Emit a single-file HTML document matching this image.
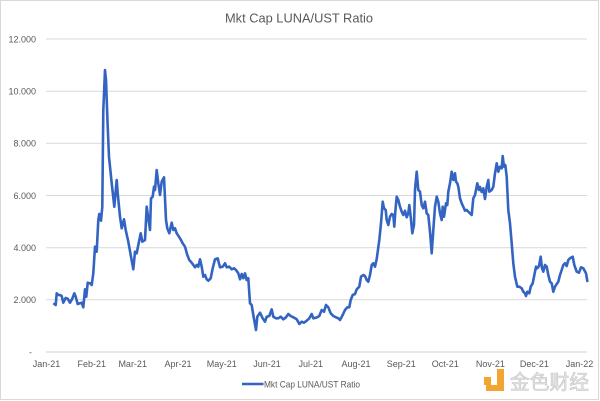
<!DOCTYPE html>
<html>
<head>
<meta charset="utf-8">
<style>
html,body{margin:0;padding:0;background:#fff;}
svg{display:block;}
</style>
</head>
<body>
<svg width="600" height="401" viewBox="0 0 600 401" xmlns="http://www.w3.org/2000/svg">
  <rect x="0" y="0" width="600" height="401" fill="#ffffff"/>
  <rect x="0.5" y="0.5" width="598" height="399" fill="none" stroke="#d9d9d9" stroke-width="1"/>

  <!-- Title -->
  <text x="299" y="22.5" text-anchor="middle" font-family="Liberation Sans, sans-serif" font-size="13" fill="#595959" textLength="148" lengthAdjust="spacingAndGlyphs">Mkt Cap LUNA/UST Ratio</text>

  <!-- Gridlines -->
  <g stroke="#d9d9d9" stroke-width="1">
    <line x1="46" y1="39" x2="587" y2="39"/>
    <line x1="46" y1="91.2" x2="587" y2="91.2"/>
    <line x1="46" y1="143.3" x2="587" y2="143.3"/>
    <line x1="46" y1="195.5" x2="587" y2="195.5"/>
    <line x1="46" y1="247.7" x2="587" y2="247.7"/>
    <line x1="46" y1="299.8" x2="587" y2="299.8"/>
  </g>
  <line x1="46" y1="352" x2="587" y2="352" stroke="#d0d0d0" stroke-width="1"/>

  <!-- Y labels -->
  <g font-family="Liberation Sans, sans-serif" font-size="9" fill="#595959" text-anchor="end">
    <text x="36" y="42.3">12.000</text>
    <text x="36" y="94.5">10.000</text>
    <text x="36" y="146.6">8.000</text>
    <text x="36" y="198.8">6.000</text>
    <text x="36" y="251">4.000</text>
    <text x="36" y="303.1">2.000</text>
    <text x="32" y="355.3">-</text>
  </g>

  <!-- X labels -->
  <g font-family="Liberation Sans, sans-serif" font-size="9" fill="#595959" text-anchor="middle">
    <text x="46.5" y="367">Jan-21</text>
    <text x="91.8" y="367">Feb-21</text>
    <text x="132.7" y="367">Mar-21</text>
    <text x="178" y="367">Apr-21</text>
    <text x="221.8" y="367">May-21</text>
    <text x="267" y="367">Jun-21</text>
    <text x="310.8" y="367">Jul-21</text>
    <text x="356" y="367">Aug-21</text>
    <text x="401.3" y="367">Sep-21</text>
    <text x="445.3" y="367">Oct-21</text>
    <text x="490.4" y="367">Nov-21</text>
    <text x="534.4" y="367">Dec-21</text>
    <text x="579.5" y="367">Jan-22</text>
  </g>

  <!-- Series -->
  <polyline fill="none" stroke="#3464c2" stroke-width="2.6" stroke-linejoin="round" stroke-linecap="round" points="
54.3,304 55.7,305 56.7,293.3 58.3,295 60,295 61.7,296 63.3,302.7 65.7,298 67.7,298.7 70,302.7 72.3,298.7 74.3,293.3 75.7,296.7 77.7,304 80,303.3 81.7,302.7 83.3,307.3 85,289.3 86.3,296.7 87.7,282.7 90,283.3 91.7,285 93.3,273.3 95,246.7 96.7,251.7 98.3,220 99.3,214 101,220.7 102.3,206.7 103.3,110 104.3,86.7 105,70 106,80 107.7,126.7 109,156.7 111.7,183.3 114.3,206.7 116.7,180 117.7,193.3 120,216.7 121.7,228.3 124,219.3 125.7,230 128.3,241.7 131,256.7 133.3,269.3 135,251.7 136.7,253.3 138.3,245 140.7,233.3 142.3,241.7 145,240 146.7,206.7 148.3,218.3 150,230
151,198.3 152.7,196.7 154,186.7 155,190 156.7,170 158.3,183.3 160,195 161.7,181.7 164,177.3 166,220 167.3,228.3 169.3,233.3 171.7,222.7 173.3,230 175,228.3 176.7,233.3 180,238.3 182.7,243.3 185,246.7 187.3,255 189.3,260 191.7,262.7 195,267.3 196.7,265 198.3,266.7 200,259.3 201.7,266.7 203.3,276.7 205,275 206.7,279.3 208.3,280.7 210.7,278.3 212.7,268.3 215,259.3 217.7,258.3 220,267.3 222.7,266.7 225,263.3 226.7,267.3 229.3,266.7 231.7,269.3 234,268.3 236,270 238.3,273.3 240,279.3 241.7,274 243.3,278.3 245,273.3 246.7,280 248.3,278.3 250,303.3 251.7,305 253.3,315 256,330 257.3,316.7 260,312.7 262.7,318.3 265,321.7 266.7,316.7 269.3,316 271.7,309.3 273.3,316.7 276,318.3 278.3,318.3 280.7,316.7 283.3,319.3 286,317.3 288.3,314 290.7,316 293.3,317.3 296.7,319.3 299.3,324 301.7,321.7 304,322.7 306.7,320.7 309.3,318.3 311.7,314 313.3,318.3 316.7,317.5 319.3,316 321.7,310 324,311.7 326,305 328.3,307.3 330.7,313.3 333.3,316 336,317.3 338.3,318.3 340,320 342.7,315 345,310 347.3,307.3 349.3,307.3 350.7,300 352.7,295 355,294 356.7,289.3 359.3,286.7 361,276.7 363.3,275 365,276 366.7,280 368.3,281.7 370,275 371.7,265 373.3,263.3 375,266.7 376.7,259 379.3,240 381,223.3 382.7,201.7
384,208.3 385.7,210 386.7,220 388.3,225 390,216.7 391.7,214 393.3,215 394.3,226.7 395.3,211.7 396.7,196.7 398.3,200 400,206.7 401.7,211.7 403.3,215 405,210.7 406.7,217.3 408.3,213.3 409.3,205 410.7,216.7 412.3,233.3 414,225 415,190 416.7,171.7 418.3,190 420,191.7 421.7,205 423.3,208.3 425,201.7 426.7,213.3 428.3,215 430,231.7 431.7,253.3 433.3,230 435,206.7 436.7,196.7 438.3,201.7 440,213.3 441.7,220 442.7,206.7 444,216.7 446,203.3 447.3,205 448.3,191.7 450,183.3 451.7,171.7 453.3,180 455,173.3 456,181.7 457.3,183.3 458.3,186.7 460,198.3 461.7,203.3 463.3,206.7 465,210.7 466.7,210 468.3,211.7 470,213.3 471.7,215 473.3,198.3 475,195 476,190 477.3,183.3 479,190 480,187 481.7,192 483.3,188.3 485,199 486.7,186.7 488.3,180 489.3,191.7 491.7,190 493.3,186.7 495,173.3 496.7,163.3 498.3,171.7 500,166.7 501.7,168.3 502.7,156 504,166.7 505.3,165 506.7,176.7 508.3,210 510,223.3 511.7,243.3 513.3,263.3 515,276.7 517.3,286.7 519.3,286.7 521.7,288.3 523.3,291.7 525,293.3 526,296 527.3,291.7 529.3,293.3 530.7,286.7 532.7,283.3 534,276.7 536,266.7 537.3,268.3 539,266 540.7,256.7 542,268.3 543.3,271.7 545,265 546.7,266.7 548.3,275 550,281.7 551.7,283.3 553.3,291.7 555,286.7 556.7,284 558.3,281.7 560,275 561.7,270 563.3,265 565,263.3 566.7,266 568.3,260 570,258.3 572.7,256.7 574.3,265 576.7,271.7 579,272.7 581,267.3 583.3,268.3 586,273.3 587.3,281"/>

  <!-- Legend -->
  <line x1="242" y1="384" x2="263.5" y2="384" stroke="#3464c2" stroke-width="2.6"/>
  <text x="264" y="387.5" font-family="Liberation Sans, sans-serif" font-size="9.5" fill="#595959" textLength="96" lengthAdjust="spacingAndGlyphs">Mkt Cap LUNA/UST Ratio</text>

  <!-- Watermark -->
  <g fill="#f2a531">
    <rect x="484" y="377" width="7" height="8"/>
    <rect x="497" y="369" width="7" height="22"/>
    <rect x="486" y="385" width="18" height="6"/>
  </g>
  <text x="510" y="389" font-family="Noto Sans CJK SC, WenQuanYi Zen Hei, sans-serif" font-size="20" fill="#e6e6e6" stroke="#c4c4c4" stroke-width="0.6" textLength="79" lengthAdjust="spacingAndGlyphs">金色财经</text>
</svg>
</body>
</html>
